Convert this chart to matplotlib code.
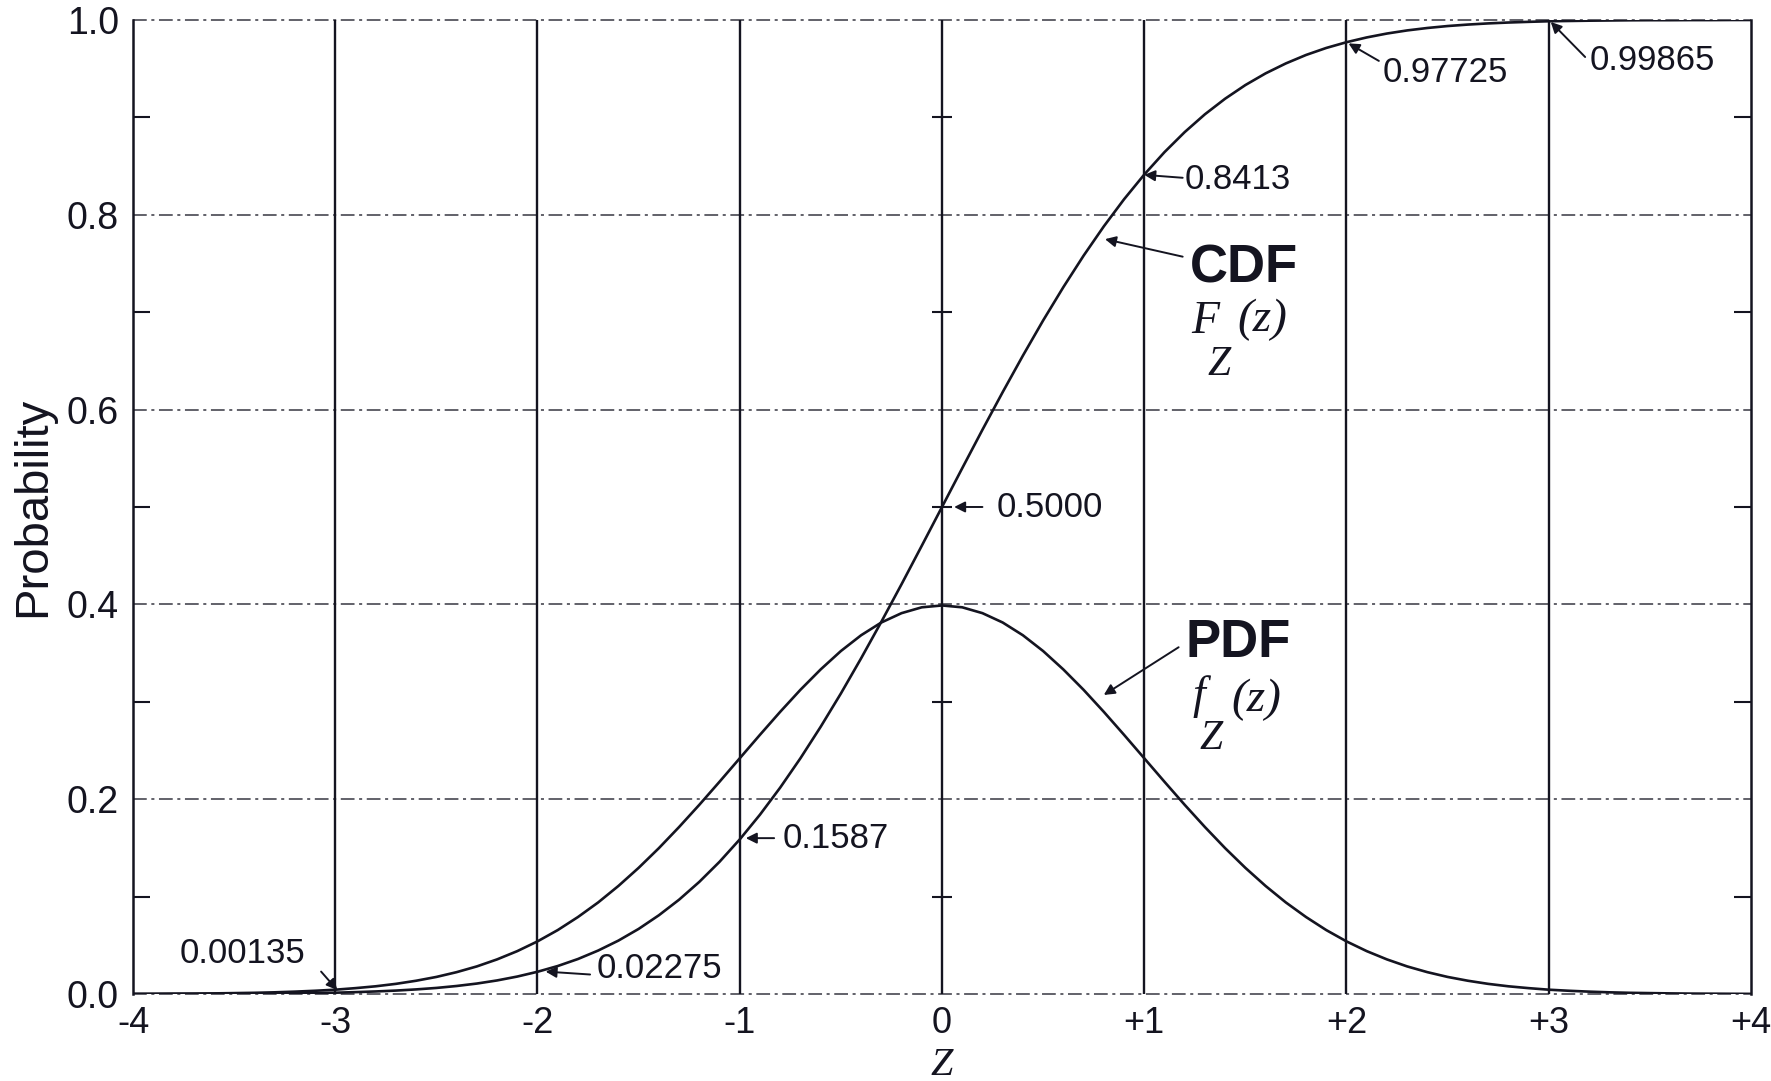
import matplotlib
matplotlib.use('Agg')
import matplotlib.pyplot as plt

# values (standard normal, z in steps of 0.1)
z = [-4.0, -3.9, -3.8, -3.7, -3.6, -3.5, -3.4, -3.3, -3.2, -3.1,
     -3.0, -2.9, -2.8, -2.7, -2.6, -2.5, -2.4, -2.3, -2.2, -2.1,
     -2.0, -1.9, -1.8, -1.7, -1.6, -1.5, -1.4, -1.3, -1.2, -1.1,
     -1.0, -0.9, -0.8, -0.7, -0.6, -0.5, -0.4, -0.3, -0.2, -0.1,
     0.0, 0.1, 0.2, 0.3, 0.4, 0.5, 0.6, 0.7, 0.8, 0.9,
     1.0, 1.1, 1.2, 1.3, 1.4, 1.5, 1.6, 1.7, 1.8, 1.9,
     2.0, 2.1, 2.2, 2.3, 2.4, 2.5, 2.6, 2.7, 2.8, 2.9,
     3.0, 3.1, 3.2, 3.3, 3.4, 3.5, 3.6, 3.7, 3.8, 3.9, 4.0]
pdf = [0.0001, 0.0002, 0.0003, 0.0004, 0.0006, 0.0009, 0.0012, 0.0017, 0.0024, 0.0033,
       0.0044, 0.0060, 0.0079, 0.0104, 0.0136, 0.0175, 0.0224, 0.0283, 0.0355, 0.0440,
       0.0540, 0.0656, 0.0790, 0.0940, 0.1109, 0.1295, 0.1497, 0.1714, 0.1942, 0.2179,
       0.2420, 0.2661, 0.2897, 0.3123, 0.3332, 0.3521, 0.3683, 0.3814, 0.3910, 0.3970,
       0.3989, 0.3970, 0.3910, 0.3814, 0.3683, 0.3521, 0.3332, 0.3123, 0.2897, 0.2661,
       0.2420, 0.2179, 0.1942, 0.1714, 0.1497, 0.1295, 0.1109, 0.0940, 0.0790, 0.0656,
       0.0540, 0.0440, 0.0355, 0.0283, 0.0224, 0.0175, 0.0136, 0.0104, 0.0079, 0.0060,
       0.0044, 0.0033, 0.0024, 0.0017, 0.0012, 0.0009, 0.0006, 0.0004, 0.0003, 0.0002, 0.0001]
cdf = [0.0000, 0.0000, 0.0001, 0.0001, 0.0002, 0.0002, 0.0003, 0.0005, 0.0007, 0.0010,
       0.0013, 0.0019, 0.0026, 0.0035, 0.0047, 0.0062, 0.0082, 0.0107, 0.0139, 0.0179,
       0.0228, 0.0287, 0.0359, 0.0446, 0.0548, 0.0668, 0.0808, 0.0968, 0.1151, 0.1357,
       0.1587, 0.1841, 0.2119, 0.2420, 0.2743, 0.3085, 0.3446, 0.3821, 0.4207, 0.4602,
       0.5000, 0.5398, 0.5793, 0.6179, 0.6554, 0.6915, 0.7257, 0.7580, 0.7881, 0.8159,
       0.8413, 0.8643, 0.8849, 0.9032, 0.9192, 0.9332, 0.9452, 0.9554, 0.9641, 0.9713,
       0.9772, 0.9821, 0.9861, 0.9893, 0.9918, 0.9938, 0.9953, 0.9965, 0.9974, 0.9981,
       0.9987, 0.9990, 0.9993, 0.9995, 0.9997, 0.9998, 0.9998, 0.9999, 0.9999, 1.0000, 1.0000]

x_ticks = [-4, -3, -2, -1, 0, 1, 2, 3, 4]
x_labels = ['-4', '-3', '-2', '-1', '0', '+1', '+2', '+3', '+4']
y_ticks = [0.0, 0.2, 0.4, 0.6, 0.8, 1.0]
y_labels = ['0.0', '0.2', '0.4', '0.6', '0.8', '1.0']
y_minor = [0.1, 0.3, 0.5, 0.7, 0.9]

# marked values: (text, arrow tip, arrow tail, text position)
marks = [
    ('0.99865', (3.01, 0.998), (3.18, 0.962), (3.20, 0.958)),
    ('0.97725', (2.01, 0.976), (2.16, 0.958), (2.18, 0.946)),
    ('0.8413', (1.00, 0.841), (1.19, 0.838), (1.20, 0.836)),
    ('0.5000', (0.06, 0.500), (0.20, 0.500), (0.27, 0.499)),
    ('0.1587', (-0.97, 0.160), (-0.83, 0.160), (-0.79, 0.160)),
    ('0.02275', (-1.96, 0.023), (-1.74, 0.020), (-1.71, 0.026)),
    ('0.00135', (-2.99, 0.004), (-3.07, 0.023), (-3.77, 0.042)),
]

ink = '#141420'
sans = ['Liberation Sans', 'DejaVu Sans']
serif = ['Liberation Serif', 'DejaVu Serif']

fig = plt.figure(figsize=(17.71, 10.81), dpi=100)
ax = fig.add_axes([0.0751, 0.0805, 0.9136, 0.9010])

ax.plot(z, cdf, color=ink, lw=1.9, zorder=4)
ax.plot(z, pdf, color=ink, lw=1.9, zorder=4)

ax.set_xlim(-4, 4)
ax.set_ylim(0, 1.0)

# grid: solid verticals, dash-dot horizontals
for xv in x_ticks[1:-1]:
    ax.axvline(xv, color=ink, lw=1.7, zorder=2)
for yv in y_ticks:
    ax.axhline(yv, color=ink, lw=1.1, dashes=(9, 3, 2, 3), alpha=0.85, zorder=2,
               clip_on=False)
ax.plot([0] * len(y_minor), y_minor, ls='none', marker='_', ms=14, mew=1.5,
        color=ink, zorder=3)

for s in ['top', 'bottom']:
    ax.spines[s].set_visible(False)
for s in ['left', 'right']:
    ax.spines[s].set_linewidth(1.8)
    ax.spines[s].set_color(ink)

ax.set_xticks(x_ticks)
ax.set_xticklabels(x_labels, family=sans, fontsize=26, color=ink)
ax.set_yticks(y_ticks)
ax.set_yticklabels(y_labels, family=sans, fontsize=27, color=ink)
ax.set_yticks(y_minor, minor=True)
ax.tick_params(axis='x', length=0, pad=9)
ax.tick_params(axis='y', which='major', length=0, pad=10)
ax.tick_params(axis='y', which='minor', direction='in', length=12, width=1.5,
               color=ink, right=True, left=True)

ax.set_ylabel('Probability', family=sans, fontsize=34, color=ink)
ax.yaxis.set_label_coords(-0.048, 0.5)
ax.set_xlabel('Z', family=serif, style='italic', fontsize=29, color=ink,
              va='baseline')
ax.xaxis.set_label_coords(0.5, -0.083)

arrow = dict(arrowstyle='-|>', lw=1.4, color=ink, mutation_scale=16,
             shrinkA=0, shrinkB=0)
for text, tip, tail, pos in marks:
    ax.annotate('', xy=tip, xytext=tail, arrowprops=arrow, zorder=5)
    ax.text(pos[0], pos[1], text, family=sans, fontsize=25, color=ink,
            va='center', ha='left', zorder=5)

# curve labels
ax.annotate('', xy=(0.806, 0.775), xytext=(1.19, 0.757), arrowprops=arrow)
ax.text(1.225, 0.745, 'CDF', family=sans, fontsize=38, weight='bold',
        color=ink, va='center', ha='left')
ax.text(1.30, 0.690, 'F', family=serif, style='italic', fontsize=33,
        color=ink, va='center', ha='center')
ax.text(1.46, 0.692, '(z)', family=serif, style='italic', fontsize=34,
        color=ink, va='center', ha='left')
ax.text(1.37, 0.646, 'Z', family=serif, style='italic', fontsize=30,
        color=ink, va='center', ha='center')

ax.annotate('', xy=(0.80, 0.307), xytext=(1.17, 0.356), arrowprops=arrow)
ax.text(1.205, 0.360, 'PDF', family=sans, fontsize=38, weight='bold',
        color=ink, va='center', ha='left')
ax.text(1.27, 0.305, 'f', family=serif, style='italic', fontsize=33,
        color=ink, va='center', ha='center')
ax.text(1.43, 0.302, '(z)', family=serif, style='italic', fontsize=34,
        color=ink, va='center', ha='left')
ax.text(1.33, 0.262, 'Z', family=serif, style='italic', fontsize=30,
        color=ink, va='center', ha='center')

fig.savefig('out.png', dpi=100, facecolor='white')
